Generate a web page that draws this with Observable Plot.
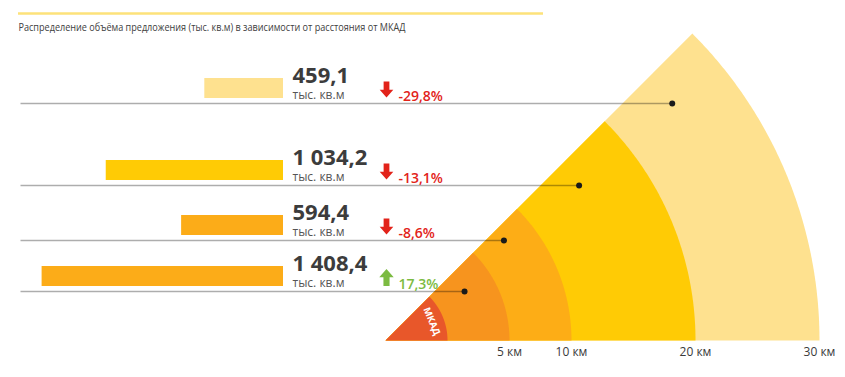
<!DOCTYPE html>
<html>
<head>
<meta charset="utf-8">
<script src="https://cdn.jsdelivr.net/npm/d3@7"></script>
<script src="https://cdn.jsdelivr.net/npm/@observablehq/plot@0.6"></script>
<style>
  html, body { margin: 0; padding: 0; background: #fff; }
  #chart { width: 845px; height: 377px; }
</style>
</head>
<body>
<div id="chart"></div>
<script>
// ---------------- DATA ----------------
const TITLE = "Распределение объёма предложения (тыс. кв.м) в зависимости от расстояния от МКАД";
const ringNames = ["МКАД", "0–5 км", "5–10 км", "10–20 км", "20–30 км"];
const ringOuterKm = [0, 5, 10, 20, 30];
const rowZones = ["20–30 км", "10–20 км", "5–10 км", "0–5 км"];
const rowValues = [459.1, 1034.2, 594.4, 1408.4];
const rowChanges = [-29.8, -13.1, -8.6, 17.3];
const unitLabel = "тыс. кв.м";
const tickKm = [5, 10, 20, 30];
const tickLabels = ["5 км", "10 км", "20 км", "30 км"];

// ---------------- STYLE / LAYOUT ----------------
const RING_COLORS = {"МКАД": "#e8572a", "0–5 км": "#f7941e", "5–10 км": "#fdad16", "10–20 км": "#ffcb05", "20–30 км": "#fee18f"};
const BAR_COLORS = {"0–5 км": "#fcac18", "5–10 км": "#fcac18", "10–20 км": "#ffcb05", "20–30 км": "#fee18f"};
const RED = "#e2231a", GREEN = "#7cbb42", DARK = "#3c3c3c";
const W = 845, H = 377, CX = 385, CY = 340, PX = 12.4; // px per km-unit
const ux = p => (p - CX) / PX, uy = p => (CY - p) / PX, pu = p => p / PX;
const MKAD_R = pu(62);
const rad = km => km + MKAD_R;
const ROW_LINE_PX = [103, 185, 240, 291];
const BAR_RIGHT = ux(283);
const BAR_K = pu(0.1714);

const ru = d3.formatLocale({decimal: ",", thousands: " ", grouping: [3], currency: ["", ""], minus: "-"});
const fmtVal = ru.format(",.1f");
const fmtPct = v => ru.format(".1f")(v) + "%";

const rows = rowZones.map((z, i) => {
  const zi = ringNames.indexOf(z);
  const rMid = (rad(ringOuterKm[zi - 1]) + rad(ringOuterKm[zi])) / 2;
  const lineY = uy(ROW_LINE_PX[i]);
  return {zone: z, value: rowValues[i], change: rowChanges[i], lineY,
          dotX: Math.sqrt(rMid * rMid - lineY * lineY)};
});

function sector(rU) {
  const pts = [[0, 0]];
  for (let i = 0; i <= 120; i++) {
    const a = (i / 120) * Math.PI / 4;
    pts.push([rU * Math.cos(a), rU * Math.sin(a)]);
  }
  pts.push([0, 0]);
  return pts;
}

function arrow(dir) {
  return {draw(ctx, size) {
    const r = Math.sqrt(size / Math.PI), s = dir;
    ctx.moveTo(0, -s * r); ctx.lineTo(0.85 * r, -s * 0.02 * r); ctx.lineTo(0.36 * r, -s * 0.02 * r);
    ctx.lineTo(0.36 * r, s * r); ctx.lineTo(-0.36 * r, s * r); ctx.lineTo(-0.36 * r, -s * 0.02 * r);
    ctx.lineTo(-0.85 * r, -s * 0.02 * r); ctx.closePath();
  }};
}
const arrowUp = arrow(1), arrowDown = arrow(-1);

const sectorMarks = ringNames.map((n, i) => Plot.line(sector(rad(ringOuterKm[i])), {
  x: d => d[0], y: d => d[1], fill: RING_COLORS[n], stroke: "none"
})).reverse();

const mkadA = Math.PI / 8, mkadR = pu(50);

const plot = Plot.plot({
  width: W, height: H,
  marginLeft: 0, marginRight: 0, marginTop: 0, marginBottom: 0,
  x: {domain: [ux(0), ux(W)], axis: null},
  y: {domain: [uy(H), uy(0)], axis: null},
  style: {fontFamily: "'Open Sans', sans-serif", background: "#fff", overflow: "visible"},
  marks: [
    Plot.ruleY([uy(13)], {x1: ux(18), x2: ux(543), stroke: "#fde27a", strokeWidth: 2.5}),
    Plot.text([TITLE], {x: ux(18), y: uy(30), text: d => d, textAnchor: "start", lineAnchor: "bottom",
      fontSize: 11, fill: "#404040", className: "ttl"}),
    ...sectorMarks,
    Plot.text([ringNames[0]], {x: mkadR * Math.cos(mkadA), y: mkadR * Math.sin(mkadA), text: d => d,
      rotate: 67.5, fill: "#fff", fontSize: 9.5, fontWeight: 700, textAnchor: "middle", lineAnchor: "middle"}),
    Plot.text(tickKm, {x: km => rad(km), y: 0, text: (km, i) => tickLabels[i], dy: 15,
      textAnchor: "middle", lineAnchor: "bottom", fontSize: 12, fill: "#3a3a3a"}),
    Plot.rect(rows, {x1: r => BAR_RIGHT - r.value * BAR_K, x2: BAR_RIGHT,
      y1: r => r.lineY + pu(5), y2: r => r.lineY + pu(25), fill: r => BAR_COLORS[r.zone]}),
    Plot.link(rows, {x1: ux(20), x2: r => r.dotX, y1: r => r.lineY, y2: r => r.lineY,
      stroke: "#000", strokeOpacity: 0.32, strokeWidth: 1.5}),
    Plot.dot(rows, {x: r => r.dotX, y: r => r.lineY, r: 3, fill: "#1a1a1a"}),
    Plot.text(rows, {x: BAR_RIGHT, y: r => r.lineY, text: r => fmtVal(r.value), dx: 9, dy: -21,
      textAnchor: "start", lineAnchor: "bottom", fontSize: 22, fontWeight: 700, fill: DARK}),
    Plot.text(rows, {x: BAR_RIGHT, y: r => r.lineY, text: () => unitLabel, dx: 9, dy: -5,
      textAnchor: "start", lineAnchor: "bottom", fontSize: 12, fill: "#555"}),
    Plot.dot(rows.filter(r => r.change < 0), {x: BAR_RIGHT, y: r => r.lineY, dx: 103, dy: -14,
      symbol: arrowDown, r: 8, fill: RED, stroke: "none"}),
    Plot.dot(rows.filter(r => r.change >= 0), {x: BAR_RIGHT, y: r => r.lineY, dx: 103, dy: -14,
      symbol: arrowUp, r: 8.5, fill: GREEN, stroke: "none"}),
    Plot.text(rows, {x: BAR_RIGHT, y: r => r.lineY, text: r => fmtPct(r.change), dx: 115, dy: -3,
      textAnchor: "start", lineAnchor: "bottom", fontSize: 14, fontWeight: 600,
      fill: r => r.change < 0 ? RED : GREEN})
  ]
});
document.getElementById("chart").appendChild(plot);
const t = plot.querySelector(".ttl text");
if (t) { t.setAttribute("textLength", 387); t.setAttribute("lengthAdjust", "spacingAndGlyphs"); }
</script>
</body>
</html>
